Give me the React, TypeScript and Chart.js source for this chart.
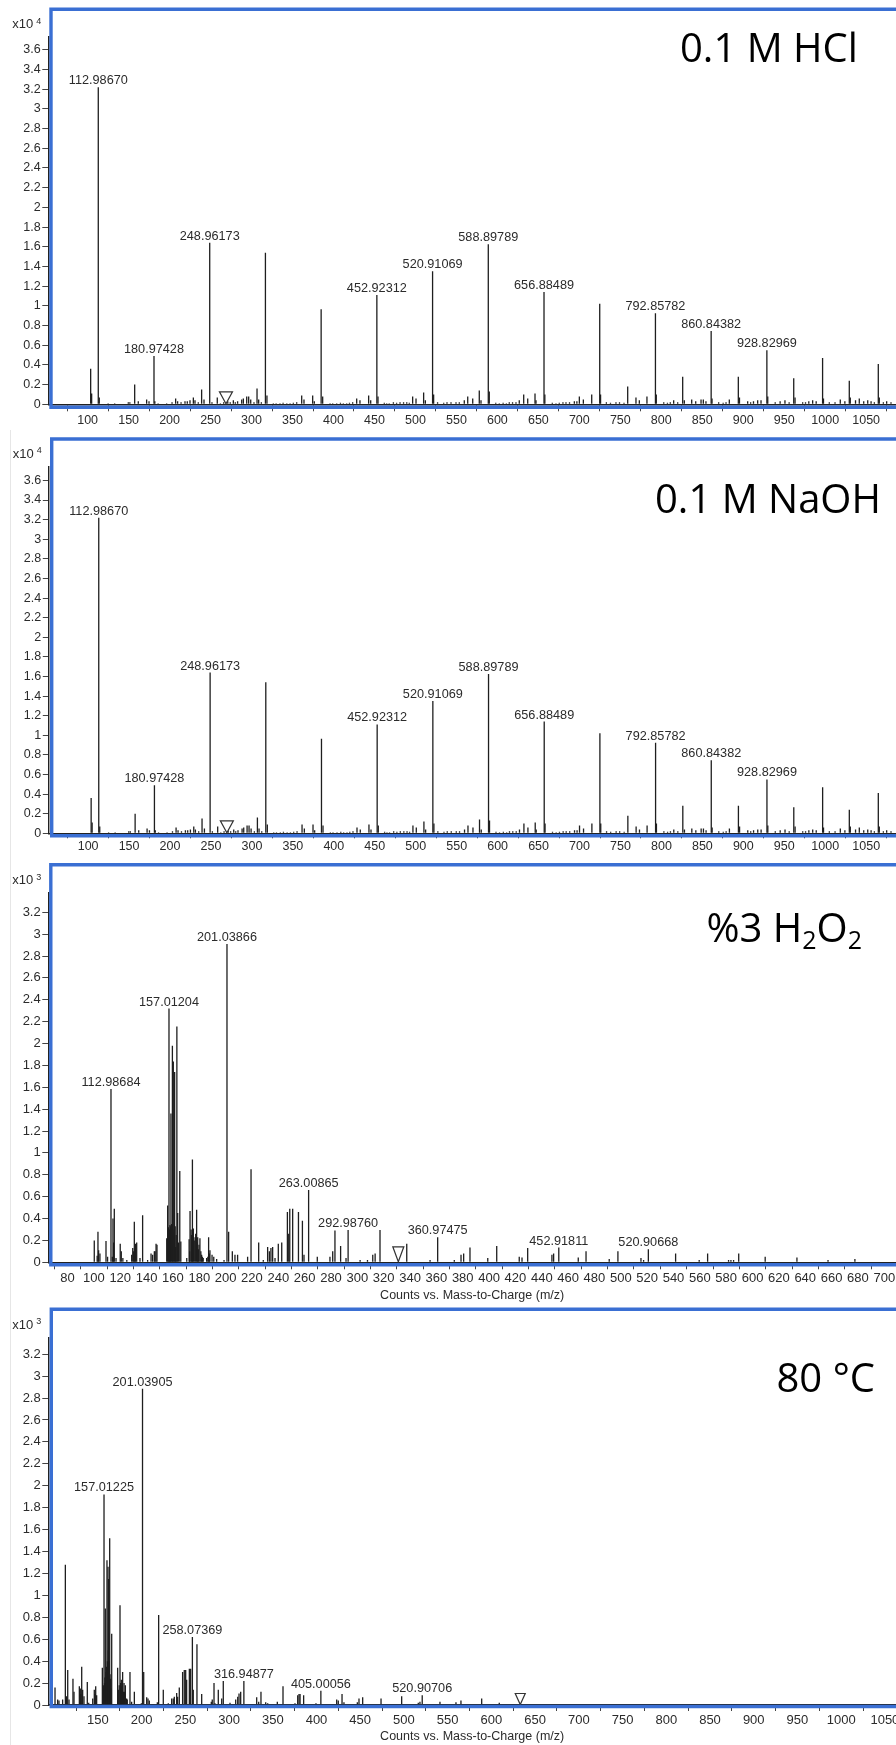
import React, { useEffect, useRef } from 'react';
import { Chart, registerables } from 'chart.js';

Chart.register(...registerables);

const SANS = '"Liberation Sans", Arial, Helvetica, sans-serif';
const TITLE_FAMILY = '"Open Sans", "Noto Sans", sans-serif';

// ---------- tick values ----------
const XT_WIDE = [100, 150, 200, 250, 300, 350, 400, 450, 500, 550, 600, 650, 700, 750, 800, 850, 900, 950, 1000, 1050];
const XT_H2O2 = [80, 100, 120, 140, 160, 180, 200, 220, 240, 260, 280, 300, 320, 340, 360, 380, 400, 420, 440, 460, 480, 500, 520, 540, 560, 580, 600, 620, 640, 660, 680, 700];
const YT_E4 = [0, 0.2, 0.4, 0.6, 0.8, 1, 1.2, 1.4, 1.6, 1.8, 2, 2.2, 2.4, 2.6, 2.8, 3, 3.2, 3.4, 3.6];
const YT_E3 = [0, 0.2, 0.4, 0.6, 0.8, 1, 1.2, 1.4, 1.6, 1.8, 2, 2.2, 2.4, 2.6, 2.8, 3, 3.2];

// ---------- 0.1 M HCl spectrum (counts x10^4) ----------
const HCL_MZ = [
  103.7, 104.9, 112.9867, 114.2, 125.0, 133.0, 149.6, 151.5, 157.4, 161.8, 172.0, 174.9, 180.97428, 182.0, 186.0,
  196.4, 203.0, 207.4, 209.8, 214.0, 218.8, 221.6, 224.9, 229.0, 231.0, 235.0, 239.1, 242.0, 248.96173, 251.7,
  258.2, 262.0, 266.0, 271.0, 274.0, 277.8, 280.2, 283.0, 288.0, 290.0, 294.1, 296.5, 299.0, 303.0, 306.7, 308.7,
  312.0, 316.94, 318.8, 326.6, 330.0, 334.7, 338.5, 343.0, 347.0, 351.0, 355.1, 361.2, 364.0, 374.6, 376.6,
  384.93, 386.8, 395.8, 399.0, 403.9, 408.5, 412.0, 416.1, 419.5, 423.4, 428.3, 432.3, 442.9, 445.4, 452.92312,
  454.3, 462.0, 464.9, 468.0, 473.1, 477.0, 481.2, 485.5, 489.4, 492.5, 496.6, 500.7, 510.0, 512.1, 520.91069,
  522.2, 527.0, 534.5, 538.5, 543.4, 549.5, 553.5, 559.6, 563.8, 569.9, 577.9, 580.0, 588.89789, 590.1, 598.0,
  602.3, 607.0, 611.0, 614.5, 618.5, 622.7, 626.7, 632.1, 637.0, 645.9, 647.1, 656.88489, 657.9, 667.0, 671.5,
  675.5, 680.0, 683.7, 688.0, 693.9, 697.0, 700.0, 704.9, 715.1, 724.87, 725.9, 733.0, 738.0, 744.7, 749.0,
  754.5, 759.0, 769.1, 773.2, 782.5, 792.85782, 793.9, 803.0, 807.5, 811.0, 815.1, 820.0, 826.1, 828.1, 837.1,
  842.0, 848.5, 851.3, 854.5, 860.84382, 861.9, 870.0, 875.5, 879.0, 883.0, 894.0, 895.4, 905.4, 909.0, 912.5,
  917.6, 921.7, 928.82969, 929.9, 939.0, 945.0, 950.9, 956.0, 961.6, 963.2, 972.5, 976.0, 980.0, 984.7, 989.0,
  996.82, 997.9, 1005.0, 1012.0, 1018.4, 1024.0, 1029.4, 1030.6, 1037.0, 1041.6, 1047.0, 1051.9, 1056.0,
  1060.0, 1064.8, 1066.0, 1071.0, 1075.0, 1080.3
];
const HCL_INT = [
  0.36, 0.11, 3.22, 0.07, 0.01, 0.01, 0.02, 0.02, 0.20, 0.03, 0.05, 0.03, 0.49, 0.03, 0.01,
  0.01, 0.02, 0.06, 0.03, 0.02, 0.03, 0.03, 0.04, 0.07, 0.04, 0.02, 0.15, 0.05, 1.64, 0.02,
  0.07, 0.01, 0.02, 0.03, 0.02, 0.04, 0.02, 0.03, 0.05, 0.06, 0.08, 0.08, 0.05, 0.02, 0.16, 0.05,
  0.02, 1.54, 0.09, 0.01, 0.01, 0.01, 0.015, 0.01, 0.01, 0.015, 0.02, 0.09, 0.05, 0.09, 0.03,
  0.965, 0.08, 0.01, 0.01, 0.01, 0.015, 0.01, 0.01, 0.015, 0.02, 0.06, 0.04, 0.09, 0.04, 1.11,
  0.08, 0.015, 0.01, 0.01, 0.02, 0.015, 0.02, 0.02, 0.02, 0.015, 0.08, 0.06, 0.12, 0.04, 1.35,
  0.10, 0.02, 0.015, 0.02, 0.02, 0.02, 0.02, 0.04, 0.08, 0.06, 0.14, 0.04, 1.625, 0.13, 0.015,
  0.01, 0.015, 0.01, 0.02, 0.02, 0.02, 0.04, 0.10, 0.06, 0.11, 0.04, 1.14, 0.10, 0.015, 0.01,
  0.015, 0.02, 0.02, 0.02, 0.03, 0.03, 0.08, 0.05, 0.10, 1.02, 0.10, 0.02, 0.015, 0.02, 0.02,
  0.015, 0.18, 0.07, 0.04, 0.08, 0.925, 0.10, 0.02, 0.015, 0.02, 0.04, 0.02, 0.28, 0.04, 0.05,
  0.03, 0.05, 0.05, 0.03, 0.745, 0.06, 0.02, 0.015, 0.02, 0.05, 0.28, 0.07, 0.03, 0.02, 0.03,
  0.04, 0.04, 0.55, 0.08, 0.02, 0.03, 0.04, 0.02, 0.265, 0.07, 0.02, 0.02, 0.03, 0.04, 0.03,
  0.47, 0.06, 0.02, 0.02, 0.05, 0.03, 0.24, 0.07, 0.04, 0.06, 0.03, 0.04, 0.03,
  0.02, 0.41, 0.07, 0.02, 0.03, 0.02
];
const HCL_LABELED = [112.9867, 180.97428, 248.96173, 452.92312, 520.91069, 588.89789, 656.88489, 792.85782, 860.84382, 928.82969];
const HCL_MARKER = [268.8];

// ---------- 0.1 M NaOH spectrum (identical in the picture) ----------
const NAOH_MZ = HCL_MZ;
const NAOH_INT = HCL_INT;
const NAOH_LABELED = HCL_LABELED;
const NAOH_MARKER = [269.4];

// ---------- 3% H2O2 spectrum (counts x10^3) ----------
const H2O2_MZ = [
  100.3, 102.5, 103.1, 103.6, 104.6, 109.2, 110.4, 112.98684, 114.0, 114.5, 115.0, 115.5, 116.8, 120.0, 120.8,
  122.0, 125.0, 128.7, 129.5, 130.2, 130.7, 131.2, 131.7, 132.5, 135.0, 137.0, 140.8, 143.4, 144.6, 145.9,
  146.5, 147.2, 147.9, 155.3, 156.0, 156.6, 157.01204, 157.4, 157.8, 158.1, 158.5, 159.0, 159.6, 159.9, 160.3,
  160.8, 161.3, 161.7, 162.1, 162.5, 163.0, 163.6, 164.2, 165.2, 166.0, 170.5, 172.3, 172.7, 173.0, 173.8,
  174.2, 174.8, 175.1, 175.5, 176.2, 176.8, 177.3, 178.0, 178.4, 178.8, 179.3, 179.8, 180.5, 181.2, 181.8,
  182.4, 183.0, 185.6, 186.5, 187.1, 187.6, 188.1, 189.7, 191.0, 193.2, 198.8, 201.03866, 202.3, 205.1, 207.1,
  209.1, 216.7, 219.3, 225.1, 228.6, 231.9, 233.2, 234.4, 235.7, 237.5, 240.0, 242.6, 246.9, 247.9, 248.7,
  250.9, 255.3, 258.3, 259.5, 263.00865, 269.6, 279.2, 281.3, 283.0, 287.3, 291.4, 292.9876, 302.1, 307.7,
  311.7, 313.5, 317.2, 337.5, 355.2, 360.97475, 373.6, 378.7, 380.7, 385.5, 399.0, 405.8, 422.9, 425.0, 429.3,
  447.7, 449.0, 452.91811, 467.7, 473.6, 491.2, 497.8, 515.3, 517.3, 520.90668, 541.6, 559.5, 565.9, 581.8,
  583.6, 585.6, 589.5, 609.6, 633.7, 657.3, 677.7
];
const H2O2_INT = [
  0.20, 0.06, 0.28, 0.11, 0.08, 0.195, 0.05, 1.585, 0.05, 0.40, 0.18, 0.49, 0.04, 0.17, 0.10,
  0.04, 0.02, 0.07, 0.13, 0.10, 0.37, 0.12, 0.17, 0.18, 0.04, 0.43, 0.02, 0.08, 0.07, 0.10,
  0.10, 0.17, 0.16, 0.22, 0.52, 0.32, 2.32, 0.30, 0.34, 0.33, 1.36, 0.35, 1.98, 0.28, 1.835,
  0.30, 1.74, 0.33, 0.14, 0.25, 2.155, 0.45, 0.18, 0.835, 0.19, 0.04, 0.21, 0.10, 0.47, 0.30,
  0.25, 0.94, 0.28, 0.31, 0.20, 0.23, 0.26, 0.48, 0.18, 0.23, 0.12, 0.16, 0.22, 0.10, 0.07,
  0.05, 0.04, 0.04, 0.05, 0.23, 0.08, 0.11, 0.07, 0.05, 0.03, 0.02, 2.91, 0.28, 0.10, 0.07,
  0.07, 0.05, 0.85, 0.18, 0.02, 0.14, 0.10, 0.13, 0.14, 0.04, 0.17, 0.18, 0.46, 0.26, 0.49,
  0.49, 0.46, 0.38, 0.07, 0.66, 0.05, 0.05, 0.10, 0.29, 0.15, 0.04, 0.295, 0.02, 0.02,
  0.07, 0.08, 0.295, 0.17, 0.02, 0.23, 0.02, 0.07, 0.08, 0.135, 0.04, 0.15, 0.05, 0.045, 0.13,
  0.07, 0.08, 0.135, 0.045, 0.10, 0.03, 0.10, 0.04, 0.02, 0.12, 0.08, 0.02, 0.08, 0.02,
  0.02, 0.02, 0.08, 0.05, 0.045, 0.02, 0.03
];
const H2O2_LABELED = [112.98684, 157.01204, 201.03866, 263.00865, 292.9876, 360.97475, 452.91811, 520.90668];
const H2O2_MARKER = [331.1];

// ---------- 80 °C spectrum (counts x10^3) ----------
const HEAT_MZ = [
  100.98, 104.0, 105.5, 109.7, 112.8, 114.2, 115.5, 117.0, 121.5, 122.7, 128.8, 129.9, 130.5, 131.5, 132.6,
  134.1, 137.9, 139.5, 144.1, 145.9, 146.7, 147.5, 148.6, 155.1, 156.2, 156.6, 157.01225, 157.6, 158.0, 158.5,
  159.1, 159.6, 160.0, 160.4, 160.9, 161.6, 161.9, 162.3, 162.8, 163.5, 163.9, 164.6, 165.2, 165.8, 172.6,
  173.8, 174.4, 175.3, 176.0, 176.8, 177.5, 178.3, 179.1, 179.9, 180.6, 181.4, 182.9, 183.6, 186.7, 188.6,
  191.7, 199.7, 201.03905, 202.4, 205.8, 207.3, 208.8, 218.0, 219.5, 224.8, 230.5, 234.4, 236.2, 237.4, 240.1,
  241.2, 243.1, 246.9, 248.8, 250.4, 251.5, 254.6, 256.1, 258.07369, 259.1, 263.3, 268.7, 279.7, 280.8, 282.8,
  283.9, 287.7, 291.6, 293.4, 301.1, 307.6, 309.9, 311.4, 313.3, 316.94877, 331.6, 333.9, 336.5, 341.9, 344.2,
  355.2, 361.7, 375.4, 378.5, 380.0, 381.2, 385.3, 399.4, 405.00056, 423.1, 424.9, 429.2, 431.4, 446.7, 448.6,
  452.8, 473.8, 497.4, 516.4, 518.3, 520.90706, 541.2, 559.5, 565.2, 588.9, 609.0
];
const HEAT_INT = [
  0.16, 0.05, 0.04, 0.05, 1.28, 0.08, 0.32, 0.05, 0.24, 0.12, 0.17, 0.15, 0.10, 0.35, 0.14,
  0.08, 0.21, 0.02, 0.06, 0.14, 0.10, 0.17, 0.09, 0.34, 0.18, 0.15, 1.92, 0.20, 0.25, 0.88,
  0.30, 0.24, 0.35, 1.32, 0.40, 1.26, 0.50, 1.15, 0.40, 1.52, 0.28, 0.24, 0.15, 0.65, 0.34,
  0.14, 0.18, 0.91, 0.20, 0.23, 0.17, 0.30, 0.12, 0.20, 0.12, 0.18, 0.06, 0.05, 0.30, 0.03,
  0.12, 0.015, 2.885, 0.30, 0.07, 0.06, 0.04, 0.025, 0.82, 0.14, 0.015, 0.06, 0.06, 0.075, 0.11,
  0.075, 0.16, 0.30, 0.32, 0.32, 0.23, 0.33, 0.33, 0.62, 0.14, 0.555, 0.10, 0.03, 0.05, 0.20,
  0.015, 0.14, 0.06, 0.22, 0.02, 0.05, 0.075, 0.105, 0.12, 0.22, 0.07, 0.03, 0.12, 0.025, 0.015,
  0.03, 0.17, 0.015, 0.09, 0.10, 0.10, 0.09, 0.015, 0.13, 0.05, 0.04, 0.10, 0.025, 0.025, 0.06,
  0.07, 0.06, 0.08, 0.02, 0.03, 0.09, 0.03, 0.025, 0.04, 0.06, 0.02
];
const HEAT_LABELED = [157.01225, 201.03905, 258.07369, 316.94877, 405.00056, 520.90706];
const HEAT_MARKER = [633.0];

const AXIS_TITLE = 'Counts vs. Mass-to-Charge (m/z)';

type Seg = { t: string; sub?: boolean };

interface Panel {
  key: string;
  top: number; height: number;
  chartTop: number; chartBottom: number; chartLeft: number;
  xMin: number; xMax: number; yMax: number;
  xTicks: number[]; yTicks: number[]; hideX: number[];
  exp: string;
  mz: number[]; ints: number[]; labeled: number[]; marker: number[];
  tickFont: number; xTickLen: number; xPad: number;
  triW: number; triH: number;
  blueTop: number; blueLeft: number; blueBottom: number;
  title: Seg[]; titleX: number; titleY: number;
  axisTitle: boolean; axisTitlePad: number;
}

const PANELS: Panel[] = [
  {
    key: 'hcl', top: 0, height: 430, chartTop: 37, chartBottom: 404.3, chartLeft: 48.3,
    xMin: 52.0, xMax: 1086.4, yMax: 3.73, xTicks: XT_WIDE, yTicks: YT_E4, hideX: [], exp: '4',
    mz: HCL_MZ, ints: HCL_INT, labeled: HCL_LABELED, marker: HCL_MARKER,
    tickFont: 12.5, xTickLen: 7, xPad: 2.2, triW: 13, triH: 12,
    blueTop: 9.2, blueLeft: 51, blueBottom: 407.3,
    title: [{ t: '0.1 M HCl' }], titleX: 680, titleY: 62, axisTitle: false, axisTitlePad: 0,
  },
  {
    key: 'naoh', top: 430, height: 430, chartTop: 466.7, chartBottom: 833.3, chartLeft: 48.8,
    xMin: 52.0, xMax: 1086.4, yMax: 3.74, xTicks: XT_WIDE, yTicks: YT_E4, hideX: [], exp: '4',
    mz: NAOH_MZ, ints: NAOH_INT, labeled: NAOH_LABELED, marker: NAOH_MARKER,
    tickFont: 12.5, xTickLen: 5, xPad: 1.2, triW: 13, triH: 12,
    blueTop: 439, blueLeft: 51.7, blueBottom: 835.8,
    title: [{ t: '0.1 M NaOH' }], titleX: 655, titleY: 512.7, axisTitle: false, axisTitlePad: 0,
  },
  {
    key: 'h2o2', top: 860, height: 445, chartTop: 893, chartBottom: 1262.3, chartLeft: 48.3,
    xMin: 65.4, xMax: 708.9, yMax: 3.376, xTicks: XT_H2O2, yTicks: YT_E3, hideX: [], exp: '3',
    mz: H2O2_MZ, ints: H2O2_INT, labeled: H2O2_LABELED, marker: H2O2_MARKER,
    tickFont: 13, xTickLen: 7, xPad: 1.6, triW: 11, triH: 15,
    blueTop: 864.7, blueLeft: 50.8, blueBottom: 1264.7,
    title: [{ t: '%3 H' }, { t: '2', sub: true }, { t: 'O' }, { t: '2', sub: true }],
    titleX: 706.5, titleY: 941.7, axisTitle: true, axisTitlePad: 1.5,
  },
  {
    key: 'heat', top: 1305, height: 440, chartTop: 1337.7, chartBottom: 1705, chartLeft: 48.3,
    xMin: 93.3, xMax: 1062.7, yMax: 3.35, xTicks: XT_WIDE, yTicks: YT_E3, hideX: [100], exp: '3',
    mz: HEAT_MZ, ints: HEAT_INT, labeled: HEAT_LABELED, marker: HEAT_MARKER,
    tickFont: 13, xTickLen: 6, xPad: 2, triW: 10, triH: 11,
    blueTop: 1309.2, blueLeft: 51.3, blueBottom: 1706.5,
    title: [{ t: '80 °C' }], titleX: 776.5, titleY: 1391.7, axisTitle: true, axisTitlePad: 0.8,
  },
];

function buildChart(canvas: HTMLCanvasElement, p: Panel): Chart {
  const pts = p.mz.map((m, i) => ({ x: m, y: p.ints[i] })).sort((a, b) => a.x - b.x);
  const W = 896;
  const decor = {
    id: 'decor_' + p.key,
    afterDatasetsDraw(chart: any) {
      const { ctx } = chart;
      const xs = chart.scales.x;
      const ys = chart.scales.y;
      ctx.save();
      // peak labels
      ctx.font = `12.7px ${SANS}`;
      ctx.fillStyle = '#2b2b2b';
      ctx.textAlign = 'center';
      ctx.textBaseline = 'alphabetic';
      p.labeled.forEach((m) => {
        const i = p.mz.indexOf(m);
        if (i < 0) return;
        const v = p.ints[i];
        ctx.fillText(m.toFixed(5), xs.getPixelForValue(m), ys.getPixelForValue(v) - 3);
      });
      // precursor marker triangles
      p.marker.forEach((m) => {
        const tx = xs.getPixelForValue(m);
        const by = ys.getPixelForValue(0) - 0.5;
        ctx.beginPath();
        ctx.moveTo(tx - p.triW / 2, by - p.triH);
        ctx.lineTo(tx + p.triW / 2, by - p.triH);
        ctx.lineTo(tx, by);
        ctx.closePath();
        ctx.fillStyle = '#ffffff';
        ctx.fill();
        ctx.strokeStyle = '#333';
        ctx.lineWidth = 1.2;
        ctx.stroke();
      });
      ctx.restore();
    },
    afterDraw(chart: any) {
      const { ctx, chartArea } = chart;
      const off = p.top;
      ctx.save();
      // exponent label
      ctx.fillStyle = '#2b2b2b';
      ctx.font = `13px ${SANS}`;
      ctx.textAlign = 'right';
      ctx.textBaseline = 'alphabetic';
      ctx.fillText('x10', chartArea.left - 15, chartArea.top - 8.7);
      ctx.font = `9px ${SANS}`;
      ctx.textAlign = 'left';
      ctx.fillText(p.exp, chartArea.left - 12, chartArea.top - 13.5);
      // blue frame
      ctx.strokeStyle = '#3a6fd3';
      ctx.lineWidth = 3.4;
      ctx.lineJoin = 'miter';
      ctx.beginPath();
      ctx.moveTo(W + 5, p.blueTop - off);
      ctx.lineTo(p.blueLeft, p.blueTop - off);
      ctx.lineTo(p.blueLeft, p.blueBottom - off);
      ctx.lineTo(W + 5, p.blueBottom - off);
      ctx.stroke();
      // big sample title
      ctx.fillStyle = '#000';
      ctx.textAlign = 'left';
      ctx.textBaseline = 'alphabetic';
      let x = p.titleX;
      p.title.forEach((s) => {
        ctx.font = s.sub ? `25px ${TITLE_FAMILY}` : `40px ${TITLE_FAMILY}`;
        const y = p.titleY - off + (s.sub ? 7.6 : 0);
        ctx.fillText(s.t, x, y);
        x += ctx.measureText(s.t).width;
      });
      ctx.restore();
    },
  };

  return new Chart(canvas, {
    type: 'bar',
    data: {
      datasets: [
        {
          data: pts as any,
          backgroundColor: '#1e1e1e',
          borderWidth: 0,
          barThickness: 1.3,
          inflateAmount: 0,
        } as any,
      ],
    },
    options: {
      responsive: false,
      maintainAspectRatio: false,
      devicePixelRatio: 1,
      animation: false,
      events: [],
      layout: {
        autoPadding: false,
        padding: { top: p.chartTop - p.top, left: 0, right: 0, bottom: 0 },
      } as any,
      plugins: {
        legend: { display: false },
        tooltip: { enabled: false },
        title: { display: false },
      },
      scales: {
        x: {
          type: 'linear',
          min: p.xMin,
          max: p.xMax,
          offset: false,
          afterBuildTicks: (s: any) => {
            s.ticks = p.xTicks.map((v) => ({ value: v }));
          },
          afterFit: (s: any) => {
            s.height = p.top + p.height - p.chartBottom;
            s.paddingLeft = 0;
            s.paddingRight = 0;
          },
          ticks: {
            autoSkip: false,
            maxRotation: 0,
            minRotation: 0,
            padding: p.xPad,
            color: '#2b2b2b',
            font: { family: SANS, size: p.tickFont },
            callback: (v: any) => (p.hideX.includes(Number(v)) ? '' : String(v)),
          },
          grid: {
            display: true,
            drawOnChartArea: false,
            drawTicks: true,
            tickLength: p.xTickLen,
            color: '#444',
            lineWidth: 1,
          },
          border: { display: true, color: '#222', width: 1.4 },
          title: {
            display: p.axisTitle,
            text: AXIS_TITLE,
            color: '#2b2b2b',
            font: { family: SANS, size: 12.5 },
            padding: { top: 0, bottom: p.axisTitlePad },
          },
        },
        y: {
          type: 'linear',
          min: 0,
          max: p.yMax,
          afterBuildTicks: (s: any) => {
            s.ticks = p.yTicks.map((v) => ({ value: v }));
          },
          afterFit: (s: any) => {
            s.width = p.chartLeft;
          },
          ticks: {
            padding: 1.6,
            color: '#2b2b2b',
            font: { family: SANS, size: p.tickFont },
            callback: (v: any) => String(v),
          },
          grid: {
            display: true,
            drawOnChartArea: false,
            drawTicks: true,
            tickLength: 6,
            color: '#444',
            lineWidth: 1,
          },
          border: { display: true, color: '#222', width: 1.4 },
        },
      },
    },
    plugins: [decor],
  } as any);
}

function PanelCanvas({ p }: { p: Panel }) {
  const ref = useRef<HTMLCanvasElement | null>(null);
  useEffect(() => {
    if (!ref.current) return;
    const c = buildChart(ref.current, p);
    return () => c.destroy();
  }, [p]);
  return (
    <canvas
      ref={ref}
      width={896}
      height={p.height}
      style={{ position: 'absolute', left: 0, top: p.top, width: 896, height: p.height, display: 'block' }}
    />
  );
}

export default function App() {
  return (
    <div
      style={{
        position: 'absolute',
        left: 0,
        top: 0,
        width: 896,
        height: 1745,
        background: '#ffffff',
        overflow: 'hidden',
      }}
    >
      <div style={{ position: 'absolute', left: 10, top: 430, width: 1, height: 1315, background: '#e6e6e6' }} />
      {PANELS.map((p) => (
        <PanelCanvas key={p.key} p={p} />
      ))}
    </div>
  );
}
